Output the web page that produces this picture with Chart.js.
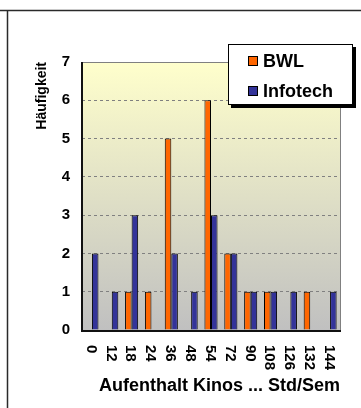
<!DOCTYPE html>
<html>
<head>
<meta charset="utf-8">
<script src="https://cdn.jsdelivr.net/npm/chart.js@4.4.1/dist/chart.umd.min.js"></script>
<style>
  html, body { margin: 0; padding: 0; background: #ffffff; overflow: hidden; }
  #wrap { width: 361px; height: 408px; position: relative; }
</style>
</head>
<body>
<div id="wrap"><canvas id="c" width="361" height="408"></canvas></div>
<script>
// Aufenthalt im Kino (Std/Semester) – Häufigkeiten je Studiengang
const categories = ['0', '12', '18', '24', '36', '48', '54', '72', '90', '108', '126', '132', '144'];
const bwlCounts = [0, 0, 1, 1, 5, 0, 6, 2, 1, 1, 0, 1, 0];
const infotechCounts = [2, 1, 3, 0, 2, 1, 3, 2, 1, 1, 1, 0, 1];
const seriesNames = ['BWL', 'Infotech'];
const seriesColors = ['#FF6600', '#333399'];
const yTicks = [0, 1, 2, 3, 4, 5, 6, 7];
const xTitle = 'Aufenthalt Kinos ... Std/Sem';
const yTitle = 'Häufigkeit';

const FONT = '"Liberation Sans", Arial, Helvetica, sans-serif';

// Outer frame lines of the sheet
const framePlugin = {
  id: 'frame',
  beforeDraw(chart) {
    const ctx = chart.ctx;
    ctx.save();
    ctx.strokeStyle = '#2a2a2a';
    ctx.lineWidth = 1.5;
    ctx.beginPath();
    ctx.moveTo(0, 10.5);
    ctx.lineTo(chart.width, 10.5);
    ctx.moveTo(7.5, 10.5);
    ctx.lineTo(7.5, chart.height);
    ctx.stroke();
    ctx.restore();
  }
};

// Yellow-to-grey plot area fill
const plotBgPlugin = {
  id: 'plotBg',
  beforeDraw(chart) {
    const { ctx, chartArea: a } = chart;
    const g = ctx.createLinearGradient(0, a.top, 0, a.bottom);
    g.addColorStop(0, '#FFFFCC');
    g.addColorStop(1, '#C0C0C0');
    ctx.save();
    ctx.fillStyle = g;
    ctx.fillRect(a.left, a.top, a.right - a.left, a.bottom - a.top);
    ctx.restore();
  }
};

// Plot area border (top/right grey, left/bottom dark)
const plotBorderPlugin = {
  id: 'plotBorder',
  afterDatasetsDraw(chart) {
    const { ctx, chartArea: a } = chart;
    ctx.save();
    ctx.strokeStyle = '#808080';
    ctx.lineWidth = 1;
    ctx.beginPath();
    ctx.moveTo(a.left, a.top + 0.5);
    ctx.lineTo(a.right + 0.5, a.top + 0.5);
    ctx.lineTo(a.right + 0.5, a.bottom);
    ctx.stroke();
    ctx.strokeStyle = '#111111';
    ctx.lineWidth = 2;
    ctx.beginPath();
    ctx.moveTo(a.left, a.top);
    ctx.lineTo(a.left, a.bottom + 1);
    ctx.lineTo(a.right + 1, a.bottom + 1);
    ctx.stroke();
    ctx.restore();
  }
};

// Category labels, turned to read downwards from the axis
const xLabelPlugin = {
  id: 'xLabels',
  afterDraw(chart) {
    const { ctx } = chart;
    const xs = chart.scales.x;
    ctx.save();
    ctx.fillStyle = '#000';
    ctx.font = 'bold 15px ' + FONT;
    ctx.textAlign = 'left';
    ctx.textBaseline = 'middle';
    xs.ticks.forEach((t, i) => {
      const x = xs.getPixelForTick(i);
      ctx.save();
      ctx.translate(x - 1, chart.chartArea.bottom + 15);
      ctx.rotate(Math.PI / 2);
      ctx.fillText(xs.getLabelForValue(t.value), 0, 0);
      ctx.restore();
    });
    ctx.restore();
  }
};

// Boxed legend with drop shadow
const legendBoxPlugin = {
  id: 'legendBox',
  afterDraw(chart) {
    const { ctx } = chart;
    const x = 228, y = 44, w = 125, h = 61;
    ctx.save();
    ctx.fillStyle = '#000';
    ctx.fillRect(x + 3, y + 3, w, h);
    ctx.fillStyle = '#fff';
    ctx.fillRect(x, y, w, h);
    ctx.strokeStyle = '#000';
    ctx.lineWidth = 1;
    ctx.strokeRect(x + 0.5, y + 0.5, w - 1, h - 1);
    ctx.font = 'bold 18px ' + FONT;
    ctx.textBaseline = 'middle';
    ctx.textAlign = 'left';
    chart.data.datasets.forEach((ds, i) => {
      const cy = y + 17 + i * 30;
      ctx.fillStyle = ds.backgroundColor;
      ctx.fillRect(248, cy - 5, 10, 10);
      ctx.strokeStyle = '#000';
      ctx.strokeRect(248.5, cy - 4.5, 9, 9);
      ctx.fillStyle = '#000';
      ctx.fillText(ds.label, 263, cy + 1);
    });
    ctx.restore();
  }
};

new Chart(document.getElementById('c'), {
  type: 'bar',
  data: {
    labels: categories,
    datasets: [
      { label: seriesNames[0], data: bwlCounts, backgroundColor: seriesColors[0], borderColor: '#000', borderWidth: 1 },
      { label: seriesNames[1], data: infotechCounts, backgroundColor: seriesColors[1], borderColor: '#000', borderWidth: 1 }
    ]
  },
  options: {
    responsive: false,
    animation: false,
    devicePixelRatio: 1,
    layout: { padding: { left: 0, top: 62, right: 21, bottom: 0 } },
    datasets: { bar: { categoryPercentage: 0.66, barPercentage: 1.0 } },
    plugins: {
      legend: { display: false },
      tooltip: { enabled: false }
    },
    scales: {
      x: {
        grid: { display: false, drawTicks: false },
        border: { display: false },
        ticks: { display: false },
        title: {
          display: true,
          text: xTitle,
          align: 'end',
          color: '#000',
          font: { family: FONT, size: 18, weight: 'bold' },
          padding: { top: 0, bottom: 11 }
        },
        afterFit(scale) { scale.height = 78; }
      },
      y: {
        min: 0,
        max: 7,
        afterBuildTicks(scale) { scale.ticks = yTicks.map(v => ({ value: v })); },
        grid: { color: '#808080', lineWidth: 1, drawTicks: false },
        border: { display: false, dash: [3, 3] },
        ticks: {
          color: '#000',
          padding: 12,
          font: { family: FONT, size: 15, weight: 'bold' }
        },
        title: {
          display: true,
          text: yTitle,
          align: 'end',
          color: '#000',
          font: { family: FONT, size: 14, weight: 'bold' },
          padding: { top: 34, bottom: 0 }
        },
        afterFit(scale) { scale.width = 82; }
      }
    }
  },
  plugins: [framePlugin, plotBgPlugin, plotBorderPlugin, xLabelPlugin, legendBoxPlugin]
});
</script>
</body>
</html>
